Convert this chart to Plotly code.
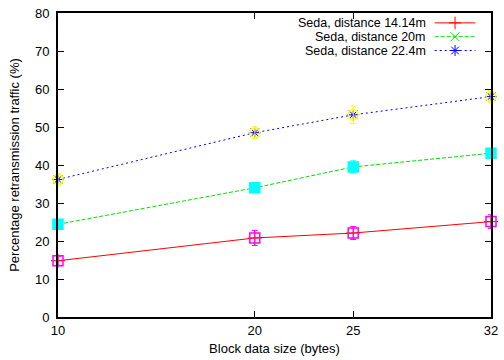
import plotly.graph_objects as go

# Block data sizes (bytes) and measured retransmission traffic (%)
block_sizes = [10, 20, 25, 32]

traffic_14m = [14.8, 20.8, 22.1, 25.1]
traffic_20m = [24.4, 34.0, 39.5, 43.1]
traffic_22m = [36.2, 48.5, 53.2, 58.0]

err_14m = [1.2, 2.0, 1.7, 1.8]
err_20m = [1.0, 1.0, 1.6, 1.0]
err_22m = [1.5, 1.5, 2.3, 1.6]

series_names = ["Seda, distance 14.14m", "Seda, distance 20m", "Seda, distance 22.4m"]
line_colors = ["#ff0000", "#00e000", "#0000ff"]
line_dashes = ["solid", "4px,2px", "2px,3px"]
line_symbols = ["cross-thin", "x-thin", "asterisk"]
err_colors = ["#ff00ff", "#00ffff", "#ffff00"]
err_symbols = ["square-open", "square", "circle-open"]

y_ticks = [0, 10, 20, 30, 40, 50, 60, 70, 80]

FONT = "Liberation Sans, Arial, Helvetica, sans-serif"

values = [traffic_14m, traffic_20m, traffic_22m]
errors = [err_14m, err_20m, err_22m]

fig = go.Figure()

# measurement lines with point markers
for name, vals, col, dash, sym in zip(series_names, values, line_colors, line_dashes, line_symbols):
    fig.add_trace(go.Scatter(
        x=block_sizes, y=vals, mode="lines+markers", name=name,
        line=dict(color=col, width=1, dash=dash),
        marker=dict(symbol=sym, size=10, color=col, line=dict(color=col, width=1)),
        cliponaxis=False, showlegend=False,
    ))

# error bars drawn on top of the lines
for vals, errs, col, sym in zip(values, errors, err_colors, err_symbols):
    fig.add_trace(go.Scatter(
        x=block_sizes, y=vals, mode="markers",
        marker=dict(symbol=sym, size=10, color=col, line=dict(color=col, width=1.5)),
        error_y=dict(type="data", array=errs, color=col, thickness=1, width=3),
        cliponaxis=False, showlegend=False,
    ))

# key in the top-right corner: label, then a line sample with its marker
key_rows = [0.9675, 0.922, 0.8766]
key_x0, key_x1, key_xm, key_text_x = 0.870, 0.964, 0.917, 0.852
for name, col, dash, sym, ky in zip(series_names, line_colors, line_dashes, line_symbols, key_rows):
    fig.add_trace(go.Scatter(
        x=[key_x0, key_x1], y=[ky, ky], mode="lines", xaxis="x2", yaxis="y2",
        line=dict(color=col, width=1, dash=dash), showlegend=False, hoverinfo="skip",
    ))
    fig.add_trace(go.Scatter(
        x=[key_xm], y=[ky], mode="markers", xaxis="x2", yaxis="y2",
        marker=dict(symbol=sym, size=9, color=col, line=dict(color=col, width=1)),
        showlegend=False, hoverinfo="skip",
    ))
    fig.add_annotation(
        x=key_text_x, y=ky, xref="x2", yref="y2", text=name, showarrow=False,
        xanchor="right", yanchor="middle", borderpad=0,
        font=dict(family=FONT, size=12.5, color="#000000"),
    )

axis_common = dict(
    showline=True, linecolor="#000000", linewidth=2, mirror="ticks",
    ticks="inside", ticklen=6, tickwidth=1, tickcolor="#000000",
    showgrid=False, zeroline=False,
    tickfont=dict(family=FONT, size=13, color="#000000"),
)

fig.update_layout(
    width=504, height=360,
    margin=dict(l=58, r=6, t=12, b=40),
    paper_bgcolor="white", plot_bgcolor="white",
    font=dict(family=FONT, size=13, color="#000000"),
    xaxis=dict(
        range=[10, 32], tickvals=block_sizes, ticktext=[str(v) for v in block_sizes],
        title=dict(text="Block data size (bytes)", font=dict(family=FONT, size=13), standoff=7),
        **axis_common,
    ),
    yaxis=dict(
        range=[0, 80], tickvals=y_ticks,
        title=dict(text="Percentage retransmission traffic (%)", font=dict(family=FONT, size=13), standoff=12),
        ticklabelstandoff=4,
        **axis_common,
    ),
    xaxis2=dict(range=[0, 1], overlaying="x", anchor="y2", visible=False, fixedrange=True),
    yaxis2=dict(range=[0, 1], overlaying="y", anchor="x2", visible=False, fixedrange=True),
    showlegend=False,
)

fig.write_html("out.html")
